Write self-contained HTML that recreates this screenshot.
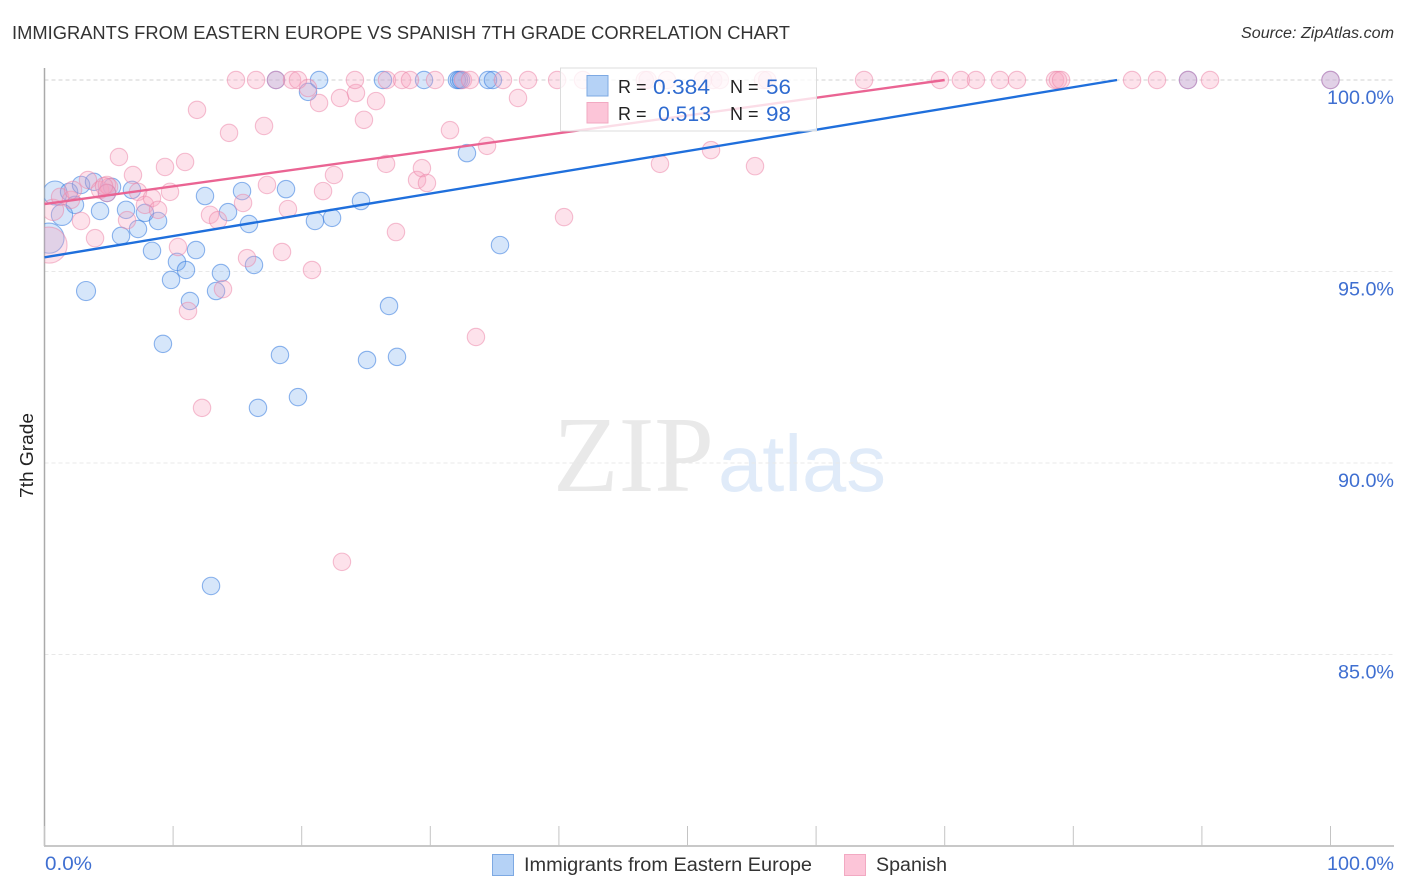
<!DOCTYPE html>
<html lang="en">
<head>
<meta charset="utf-8">
<title>Immigrants from Eastern Europe vs Spanish 7th Grade Correlation Chart</title>
<style>
html,body{margin:0;padding:0;background:#fff;}
svg{display:block;font-family:"Liberation Sans",Arial,sans-serif;}
</style>
</head>
<body>
<svg id="chart" width="1406" height="892" viewBox="0 0 1406 892">
  <defs>
    <clipPath id="plot-clip"><rect x="44.5" y="60" width="1362" height="790"/></clipPath>
  </defs>
  <text x="12" y="39" font-size="18" fill="#333" textLength="778" lengthAdjust="spacingAndGlyphs">IMMIGRANTS FROM EASTERN EUROPE VS SPANISH 7TH GRADE CORRELATION CHART</text>
  <text x="1394" y="38" font-size="15.500" font-style="italic" fill="#333" text-anchor="end" textLength="153" lengthAdjust="spacingAndGlyphs">Source: ZipAtlas.com</text>

  <g>
    <text x="553" y="491" font-family="'Liberation Serif',serif" font-size="108" fill="#e9e9e9" textLength="161" lengthAdjust="spacingAndGlyphs">ZIP</text>
    <text x="718" y="491" font-size="80" fill="#e0ebf9" textLength="168" lengthAdjust="spacingAndGlyphs">atlas</text>
  </g>

  <g id="grid"></g>
  <g id="axes"></g>
  <g id="dots-blue" clip-path="url(#plot-clip)"></g>
  <g id="dots-pink" clip-path="url(#plot-clip)"></g>
  <g id="trends"></g>

  <g>
    <rect x="560.5" y="68" width="256" height="63" fill="#fff" fill-opacity="0.78" stroke="#dcdcdc"/>
    <rect x="587" y="75.500" width="21" height="20.500" fill="#b5d2f6" stroke="#7da9e3"/>
    <rect x="587" y="102.500" width="21" height="20.500" fill="#fcc5d8" stroke="#f2a9c2"/>
    <text x="618" y="93" font-size="18" fill="#222">R =</text>
    <text x="653" y="94" font-size="21" fill="#2f6bd0" textLength="57" lengthAdjust="spacingAndGlyphs">0.384</text>
    <text x="730" y="93" font-size="18" fill="#222">N =</text>
    <text x="766" y="94" font-size="21" fill="#2f6bd0" textLength="25" lengthAdjust="spacingAndGlyphs">56</text>
    <text x="618" y="120" font-size="18" fill="#222">R =</text>
    <text x="658" y="121" font-size="21" fill="#2f6bd0" textLength="53" lengthAdjust="spacingAndGlyphs">0.513</text>
    <text x="730" y="120" font-size="18" fill="#222">N =</text>
    <text x="766" y="121" font-size="21" fill="#2f6bd0" textLength="25" lengthAdjust="spacingAndGlyphs">98</text>
  </g>

  <text transform="translate(33,455.500) rotate(-90)" font-size="18.500" fill="#222" text-anchor="middle" textLength="85" lengthAdjust="spacingAndGlyphs">7th Grade</text>

  <g>
    <rect x="492.500" y="854.500" width="21" height="21" fill="#b5d2f6" stroke="#7da9e3"/>
    <text x="524" y="871" font-size="19" fill="#333" textLength="288" lengthAdjust="spacingAndGlyphs">Immigrants from Eastern Europe</text>
    <rect x="844.500" y="854.500" width="21" height="21" fill="#fcc5d8" stroke="#f2a9c2"/>
    <text x="876" y="871" font-size="19" fill="#333" textLength="71" lengthAdjust="spacingAndGlyphs">Spanish</text>
  </g>
</svg>

<script>
// ---- Chart data (in percent) ----
const xTickValues = [0, 10, 20, 30, 40, 50, 60, 70, 80, 90, 100];
const xTickLabels = ["0.0%", "", "", "", "", "", "", "", "", "", "100.0%"];
const yTickValues = [100, 95, 90, 85];
const yTickLabels = ["100.0%", "95.0%", "90.0%", "85.0%"];

const blueX = [0.82, 0.35, 1.91, 2.84, 3.85, 5.25, 4.86, 2.37, 1.36, 4.32, 6.34, 6.80, 7.81, 8.83, 5.95, 7.27, 8.36, 3.23, 10.30, 11.00, 9.84, 11.78, 11.31, 13.34, 13.72, 9.21, 12.48, 14.27, 15.36, 15.90, 16.29, 18.78, 21.03, 22.36, 24.61, 18.31, 16.60, 19.71, 25.08, 27.41, 26.79, 12.95, 35.42, 32.85, 18.00, 21.35, 20.49, 26.32, 29.51, 32.07, 32.23, 32.39, 34.49, 34.87, 88.92, 100];
const blueY = [97.05, 95.87, 97.08, 97.26, 97.34, 97.21, 97.05, 96.74, 96.48, 96.58, 96.61, 97.13, 96.53, 96.32, 95.93, 96.11, 95.54, 94.49, 95.25, 95.04, 94.78, 95.56, 94.23, 94.49, 94.96, 93.11, 96.97, 96.55, 97.10, 96.24, 95.17, 97.15, 96.32, 96.40, 96.84, 92.82, 91.44, 91.72, 92.69, 92.77, 94.10, 86.79, 95.69, 98.09, 100, 100, 99.69, 100, 100, 100, 100, 100, 100, 100, 100, 100];
const blueWeight = [1.9, 3, 1, 1, 1, 1, 1, 1, 1.5, 1, 1, 1, 1, 1, 1, 1, 1, 1.2, 1, 1, 1, 1, 1, 1, 1, 1, 1, 1, 1, 1, 1, 1, 1, 1, 1, 1, 1, 1, 1, 1, 1, 1, 1, 1, 1, 1, 1, 1, 1, 1, 1, 1, 1, 1, 1, 1];

const pinkX = [0.35, 0.66, 1.21, 2.06, 2.22, 3.38, 2.84, 3.93, 4.32, 4.86, 5.02, 5.79, 6.88, 9.37, 10.93, 9.76, 7.27, 6.42, 4.86, 7.81, 8.36, 8.83, 11.86, 14.35, 17.07, 10.38, 12.87, 13.49, 15.44, 17.30, 18.93, 21.66, 22.51, 26.56, 28.97, 29.35, 29.74, 27.33, 18.47, 20.80, 15.75, 13.88, 11.16, 12.25, 33.55, 23.13, 40.40, 47.86, 51.83, 55.25, 34.41, 31.53, 24.84, 21.35, 22.98, 24.22, 25.78, 36.82, 20.49, 4.63, 14.89, 16.45, 18.00, 19.25, 19.71, 24.14, 26.63, 27.80, 28.42, 30.37, 32.54, 33.09, 35.65, 37.60, 39.86, 41.87, 46.68, 46.90, 48.40, 51.20, 52.00, 52.52, 55.87, 56.20, 63.73, 69.63, 71.26, 72.43, 74.30, 75.62, 78.58, 78.81, 79.05, 84.57, 86.51, 88.92, 90.63, 100];
const pinkY = [95.69, 96.61, 96.95, 96.87, 97.13, 97.39, 96.32, 95.87, 97.13, 97.26, 97.21, 97.99, 97.52, 97.73, 97.86, 97.08, 97.08, 96.34, 97.05, 96.74, 96.92, 96.61, 99.22, 98.62, 98.80, 95.64, 96.48, 96.34, 96.79, 97.26, 96.63, 97.10, 97.52, 97.81, 97.39, 97.70, 97.31, 96.03, 95.51, 95.04, 95.35, 94.54, 93.97, 91.44, 93.29, 87.42, 96.42, 97.81, 98.17, 97.75, 98.28, 98.69, 98.96, 99.40, 99.53, 99.66, 99.45, 99.53, 99.79, 97.23, 100, 100, 100, 100, 100, 100, 100, 100, 100, 100, 100, 100, 100, 100, 100, 100, 100, 100, 100, 100, 100, 100, 100, 100, 100, 100, 100, 100, 100, 100, 100, 100, 100, 100, 100, 100, 100, 100];
const pinkWeight = [4.3, 1.5, 1, 1, 1, 1, 1, 1, 1, 1, 1, 1, 1, 1, 1, 1, 1, 1, 1, 1, 1, 1, 1, 1, 1, 1, 1, 1, 1, 1, 1, 1, 1, 1, 1, 1, 1, 1, 1, 1, 1, 1, 1, 1, 1, 1, 1, 1, 1, 1, 1, 1, 1, 1, 1, 1, 1, 1, 1, 1, 1, 1, 1, 1, 1, 1, 1, 1, 1, 1, 1, 1, 1, 1, 1, 1, 1, 1, 1, 1, 1, 1, 1, 1, 1, 1, 1, 1, 1, 1, 1, 1, 1, 1, 1, 1, 1, 1];

const blueTrendX = [0, 83.4];
const blueTrendY = [95.37, 100];
const pinkTrendX = [0, 70];
const pinkTrendY = [96.76, 100];

// ---- Axis functions ----
function xScale(v) { return 44.5 + v * 12.86; }
function yScale(v) { return 80 + (100 - v) * 38.3; }
function radius(w) { return 8.7 * Math.sqrt(w); }

const NS = 'http://www.w3.org/2000/svg';
function make(tag, parent, attrs) {
  const el = document.createElementNS(NS, tag);
  Object.keys(attrs).forEach(function (k) { el.setAttribute(k, attrs[k]); });
  parent.appendChild(el);
  return el;
}

const gridG = document.getElementById('grid');
yTickValues.forEach(function (v, i) {
  const line = make('line', gridG, {
    x1: 44.5, x2: 1394, y1: yScale(v), y2: yScale(v),
    stroke: i === 0 ? '#d2d2d2' : '#e8e8e8', 'stroke-width': 1, 'stroke-dasharray': '4 3'
  });
  
  
});

const axesG = document.getElementById('axes');
const yAxisLine = make('line', axesG, { x1: 44.5, x2: 44.5, y1: 68, y2: 846, stroke: '#aaa', 'stroke-width': 1.5 });


const xAxisLine = make('line', axesG, { x1: 44, x2: 1394, y1: 846, y2: 846, stroke: '#b5b5b5', 'stroke-width': 1.5 });



xTickValues.forEach(function (v) {
  const tick = make('line', axesG, { x1: xScale(v), x2: xScale(v), y1: 826, y2: 846, stroke: '#c4c4c4', 'stroke-width': 1 });
  
  
});
xTickLabels.forEach(function (label, i) {
  if (!label) return;
  const first = i === 0;
  const t = make('text', axesG, {
    x: first ? 45 : 1394, y: 870, 'font-size': 19.5, fill: '#3f6fd1',
    'text-anchor': first ? 'start' : 'end',
    textLength: first ? 47 : 67, lengthAdjust: 'spacingAndGlyphs'
  });
  t.textContent = label;
  
  
});
yTickLabels.forEach(function (label, i) {
  const t = make('text', axesG, {
    x: 1394, y: yScale(yTickValues[i]) + 24, 'font-size': 19.5, fill: '#3f6fd1', 'text-anchor': 'end',
    textLength: i === 0 ? 67 : 56, lengthAdjust: 'spacingAndGlyphs'
  });
  t.textContent = label;
  
  
});

const blueG = document.getElementById('dots-blue');
blueX.forEach(function (x, i) {
  const c = make('circle', blueG, {
    cx: xScale(x), cy: yScale(blueY[i]), r: radius(blueWeight[i]),
    fill: 'rgba(96,158,235,0.26)', stroke: 'rgba(52,122,222,0.55)', 'stroke-width': 1.1
  });
  
  
});

const pinkG = document.getElementById('dots-pink');
pinkX.forEach(function (x, i) {
  const c = make('circle', pinkG, {
    cx: xScale(x), cy: yScale(pinkY[i]), r: radius(pinkWeight[i]),
    fill: 'rgba(250,165,192,0.32)', stroke: 'rgba(236,130,165,0.5)', 'stroke-width': 1.1
  });
  
  
});

const trendG = document.getElementById('trends');
const blueLine = make('line', trendG, {
  x1: xScale(blueTrendX[0]), y1: yScale(blueTrendY[0]), x2: xScale(blueTrendX[1]), y2: yScale(blueTrendY[1]),
  stroke: '#1f6fdc', 'stroke-width': 2.4
});


const pinkLine = make('line', trendG, {
  x1: xScale(pinkTrendX[0]), y1: yScale(pinkTrendY[0]), x2: xScale(pinkTrendX[1]), y2: yScale(pinkTrendY[1]),
  stroke: '#ea6493', 'stroke-width': 2.4
});


</script>
</body>
</html>
